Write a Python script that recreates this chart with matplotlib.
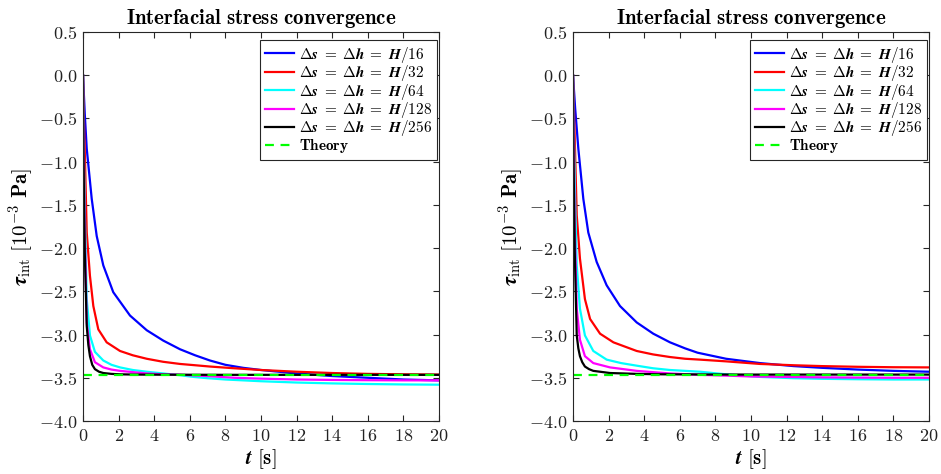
import matplotlib
matplotlib.use("Agg")
import matplotlib.pyplot as plt
from matplotlib.ticker import FuncFormatter

plt.rcParams['mathtext.fontset'] = 'cm'
plt.rcParams['font.family'] = 'serif'
plt.rcParams['font.serif'] = ['DejaVu Serif']

labels = [r'$\boldsymbol{\Delta s}\;\mathbf{=}\;\boldsymbol{\Delta h}\;\mathbf{=}\;\boldsymbol{H}\mathbf{/16}$',
          r'$\boldsymbol{\Delta s}\;\mathbf{=}\;\boldsymbol{\Delta h}\;\mathbf{=}\;\boldsymbol{H}\mathbf{/32}$',
          r'$\boldsymbol{\Delta s}\;\mathbf{=}\;\boldsymbol{\Delta h}\;\mathbf{=}\;\boldsymbol{H}\mathbf{/64}$',
          r'$\boldsymbol{\Delta s}\;\mathbf{=}\;\boldsymbol{\Delta h}\;\mathbf{=}\;\boldsymbol{H}\mathbf{/128}$',
          r'$\boldsymbol{\Delta s}\;\mathbf{=}\;\boldsymbol{\Delta h}\;\mathbf{=}\;\boldsymbol{H}\mathbf{/256}$']
colors = ['#0000ff', '#ff0000', '#00ffff', '#ff00ff', '#000000']
theory_value = -3.464

# ---- Left panel data (t [s], tau [1e-3 Pa]) ----
L16_t = [0, 0.1, 0.21, 0.49, 0.77, 1.14, 1.7, 2.64, 3.58, 4.51, 5.45, 6.3, 7.13, 8.0, 9.0, 10.0, 12.0, 14.0, 16.0, 18.0, 20.0]
L16_v = [0, -0.45, -0.85, -1.43, -1.86, -2.20, -2.51, -2.78, -2.95, -3.07, -3.17, -3.24, -3.30, -3.35, -3.385, -3.41, -3.45, -3.48, -3.50, -3.52, -3.53]
L32_t = [0, 0.05, 0.11, 0.21, 0.39, 0.58, 0.86, 1.33, 2.08, 2.8, 3.58, 4.5, 5.45, 6.3, 7.13, 8.5, 10.0, 12.0, 14.0, 16.0, 18.0, 20.0]
L32_v = [0, -0.5, -0.97, -1.82, -2.32, -2.67, -2.94, -3.09, -3.19, -3.24, -3.28, -3.315, -3.34, -3.355, -3.37, -3.39, -3.41, -3.43, -3.445, -3.455, -3.46, -3.463]
L64_t = [0, 0.04, 0.1, 0.21, 0.39, 0.67, 1.14, 1.6, 2.08, 2.8, 3.58, 4.5, 5.45, 6.2, 7.0, 8.0, 10.0, 12.0, 14.0, 16.0, 18.0, 20.0]
L64_v = [0, -0.8, -1.55, -2.59, -3.01, -3.20, -3.30, -3.35, -3.38, -3.41, -3.43, -3.45, -3.47, -3.49, -3.505, -3.52, -3.54, -3.555, -3.565, -3.572, -3.577, -3.58]
L128_t = [0, 0.03, 0.1, 0.21, 0.39, 0.67, 1.14, 1.6, 2.08, 3.58, 4.5, 5.45, 7.0, 8.5, 10.0, 12.0, 14.0, 16.0, 18.0, 20.0]
L128_v = [0, -0.9, -1.85, -2.86, -3.17, -3.32, -3.38, -3.405, -3.42, -3.45, -3.46, -3.465, -3.48, -3.50, -3.51, -3.52, -3.525, -3.528, -3.53, -3.53]
L256_t = [0, 0.03, 0.1, 0.21, 0.3, 0.39, 0.52, 0.67, 0.9, 1.14, 1.6, 2.08, 3.0, 4.0, 6.0, 8.0, 10.0, 12.0, 14.0, 16.0, 18.0, 20.0]
L256_v = [0, -1.0, -2.05, -2.9, -3.12, -3.25, -3.35, -3.40, -3.43, -3.445, -3.455, -3.46, -3.463, -3.464, -3.465, -3.466, -3.466, -3.466, -3.466, -3.466, -3.466, -3.466]

# ---- Right panel data ----
R16_t = [0, 0.12, 0.30, 0.58, 0.86, 1.33, 1.89, 2.64, 3.58, 4.51, 5.45, 6.3, 7.0, 8.6, 10.5, 12.4, 14.0, 16.0, 18.0, 20.0]
R16_v = [0, -0.38, -0.85, -1.43, -1.82, -2.16, -2.43, -2.67, -2.86, -2.99, -3.09, -3.16, -3.21, -3.28, -3.33, -3.365, -3.385, -3.405, -3.42, -3.43]
R32_t = [0, 0.08, 0.21, 0.39, 0.67, 0.96, 1.52, 2.27, 3.58, 4.5, 5.45, 6.3, 7.13, 8.6, 10.5, 12.4, 14.0, 16.0, 18.0, 20.0]
R32_v = [0, -0.6, -1.62, -2.12, -2.59, -2.82, -2.99, -3.09, -3.19, -3.23, -3.26, -3.28, -3.29, -3.31, -3.34, -3.355, -3.365, -3.373, -3.378, -3.38]
R64_t = [0, 0.05, 0.12, 0.21, 0.39, 0.67, 1.14, 1.89, 2.7, 3.58, 4.5, 5.45, 6.3, 7.13, 8.6, 10.5, 12.4, 14.0, 16.0, 18.0, 20.0]
R64_v = [0, -0.7, -1.45, -2.20, -2.70, -3.01, -3.19, -3.29, -3.33, -3.36, -3.39, -3.41, -3.42, -3.43, -3.46, -3.49, -3.505, -3.512, -3.517, -3.52, -3.52]
R128_t = [0, 0.04, 0.1, 0.21, 0.39, 0.67, 1.14, 2.08, 3.58, 5.45, 7.0, 8.6, 10.0, 12.0, 14.0, 16.0, 18.0, 20.0]
R128_v = [0, -0.9, -1.8, -2.70, -3.06, -3.25, -3.33, -3.38, -3.42, -3.45, -3.465, -3.475, -3.485, -3.49, -3.495, -3.498, -3.50, -3.50]
R256_t = [0, 0.03, 0.1, 0.21, 0.3, 0.39, 0.52, 0.67, 0.9, 1.14, 2.08, 3.58, 5.0, 8.0, 10.0, 12.0, 14.0, 16.0, 18.0, 20.0]
R256_v = [0, -1.0, -2.05, -3.01, -3.16, -3.25, -3.32, -3.37, -3.40, -3.42, -3.445, -3.455, -3.46, -3.462, -3.463, -3.463, -3.463, -3.463, -3.463, -3.463]

left_series = [(L16_t, L16_v), (L32_t, L32_v), (L64_t, L64_v), (L128_t, L128_v), (L256_t, L256_v)]
right_series = [(R16_t, R16_v), (R32_t, R32_v), (R64_t, R64_v), (R128_t, R128_v), (R256_t, R256_v)]

xticks = list(range(0, 21, 2))
yticks = [0.5, 0.0, -0.5, -1.0, -1.5, -2.0, -2.5, -3.0, -3.5, -4.0]

fig = plt.figure(figsize=(9.41, 4.74), dpi=100)
ax_l = fig.add_axes([83/941, 53/474, 356/941, 389/474])
ax_r = fig.add_axes([573/941, 53/474, 356/941, 389/474])

axc = '#262626'
for ax, series, right_px in [(ax_l, left_series, 437), (ax_r, right_series, 927)]:
    for (t, v), c, lab in zip(series, colors, labels):
        ax.plot(t, v, color=c, lw=1.6, label=lab, solid_joinstyle='round')
    ax.plot([0, 20], [theory_value, theory_value], color='#00ff00', lw=1.6,
            ls=(0, (4, 3)), label=r'$\mathbf{Theory}$')
    ax.set_xlim(0, 20)
    ax.set_ylim(-4.0, 0.5)
    ax.set_xticks(xticks)
    ax.set_yticks(yticks)
    ax.xaxis.set_major_formatter(FuncFormatter(lambda x, p: r'$\mathbf{%d}$' % round(x)))
    ax.yaxis.set_major_formatter(FuncFormatter(lambda y, p: r'$\mathbf{%.1f}$' % y))
    ax.tick_params(direction='in', top=True, right=True, length=4, width=0.8,
                   labelsize=13, colors=axc, labelcolor='#222222', pad=4)
    for s in ax.spines.values():
        s.set_color(axc)
        s.set_linewidth(0.8)
    ax.set_title(r'$\mathbf{Interfacial\ stress\ convergence}$', fontsize=15, pad=6)
    ax.set_xlabel(r'$\boldsymbol{t}\ \mathbf{[s]}$', fontsize=15, labelpad=2)
    ax.set_ylabel(r'$\boldsymbol{\tau}_{\mathrm{int}}\ \mathbf{[10^{-3}\ Pa]}$', fontsize=15, labelpad=2)
    leg = ax.legend(loc='upper right', fontsize=11, handlelength=1.9, handletextpad=0.35,
                    labelspacing=-0.1, borderpad=0.3, borderaxespad=0.0,
                    bbox_to_anchor=(right_px / 941, (474 - 40) / 474),
                    bbox_transform=fig.transFigure,
                    fancybox=False, framealpha=1)
    leg.get_frame().set_edgecolor(axc)
    leg.get_frame().set_linewidth(0.8)

fig.savefig('out.png', dpi=100)
